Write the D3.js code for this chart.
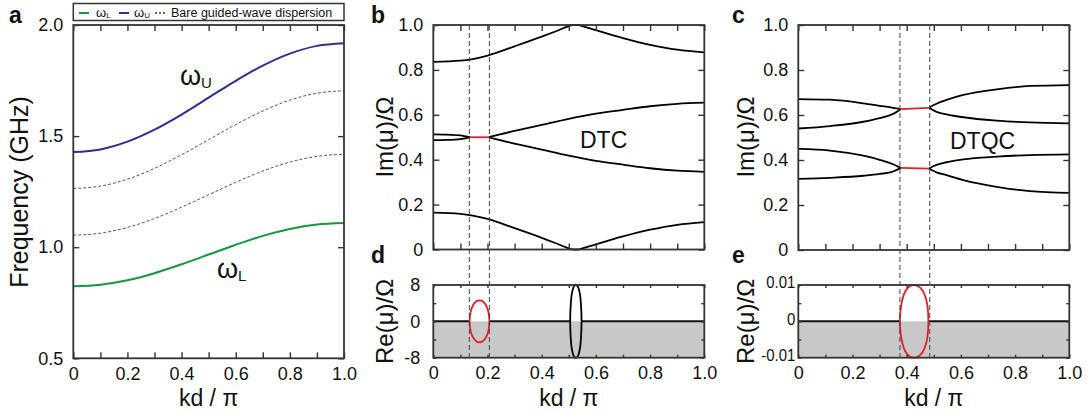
<!DOCTYPE html>
<html>
<head>
<meta charset="utf-8">
<script src="https://cdn.jsdelivr.net/npm/d3@7"></script>
<style>
  body { margin: 0; background: #fff; }
</style>
</head>
<body>
<div id="chart"></div>
<script>
// ---- Data ----
const kdTicks = [0, 0.1, 0.2, 0.3, 0.4, 0.5, 0.6, 0.7, 0.8, 0.9, 1.0]
const kdLabelVals = [0, 0.2, 0.4, 0.6, 0.8, 1.0]
const kdLabelText = ['0', '0.2', '0.4', '0.6', '0.8', '1.0']

const freqTicks = [0.5, 1.0, 1.5, 2.0]
const freqLabelText = ['0.5', '1.0', '1.5', '2.0']
const imTicks = [0, 0.2, 0.4, 0.6, 0.8, 1.0]
const imLabelText = ['0', '0.2', '0.4', '0.6', '0.8', '1.0']
const reDTicks = [-8, -4, 0, 4, 8]
const reDLabelVals = [-8, 0, 8]
const reDLabelText = ['-8', '0', '8']
const reETicks = [-0.01, -0.005, 0, 0.005, 0.01]
const reELabelVals = [-0.01, 0, 0.01]
const reELabelText = ['-0.01', '0', '0.01']

// panel a: dispersion (GHz)
const kA = [0, 0.1, 0.2, 0.3, 0.4, 0.5, 0.6, 0.7, 0.8, 0.9, 1.0]
const omegaU = [1.428, 1.440, 1.475, 1.529, 1.597, 1.673, 1.749, 1.817, 1.871, 1.906, 1.918]
const bareUpper = [1.264, 1.275, 1.306, 1.355, 1.416, 1.484, 1.552, 1.613, 1.662, 1.693, 1.704]
const bareLower = [1.054, 1.063, 1.089, 1.129, 1.180, 1.236, 1.292, 1.343, 1.383, 1.409, 1.418]
const omegaL = [0.824, 0.831, 0.851, 0.883, 0.923, 0.967, 1.011, 1.051, 1.082, 1.102, 1.109]

// panel b: Im(mu)/Omega, DTC
const bTop = [[0, 0.836], [0.1, 0.841], [0.2, 0.864], [0.3, 0.905], [0.4, 0.948], [0.45, 0.971], [0.5, 0.995], [0.515, 1.0], [0.535, 1.0], [0.55, 0.995], [0.6, 0.977], [0.7, 0.942], [0.8, 0.912], [0.9, 0.89], [1.0, 0.878]]
const bBot = [[0, 0.164], [0.1, 0.159], [0.2, 0.136], [0.3, 0.095], [0.4, 0.052], [0.45, 0.029], [0.5, 0.005], [0.515, 0], [0.535, 0], [0.55, 0.005], [0.6, 0.023], [0.7, 0.058], [0.8, 0.088], [0.9, 0.11], [1.0, 0.122]]
const bMidL1 = [[0, 0.513], [0.05, 0.512], [0.1, 0.508], [0.135, 0.5]]
const bMidL2 = [[0, 0.487], [0.05, 0.488], [0.1, 0.492], [0.135, 0.5]]
const bEP = [[0.135, 0.5], [0.205, 0.5]]
const bMidR1 = [[0.205, 0.5], [0.25, 0.514], [0.3, 0.528], [0.4, 0.555], [0.5, 0.582], [0.6, 0.605], [0.7, 0.622], [0.8, 0.638], [0.9, 0.649], [1.0, 0.654]]
const bMidR2 = [[0.205, 0.5], [0.25, 0.486], [0.3, 0.472], [0.4, 0.445], [0.5, 0.418], [0.6, 0.395], [0.7, 0.378], [0.8, 0.362], [0.9, 0.351], [1.0, 0.346]]
const bDash = [0.133, 0.207]

// panel c: Im(mu)/Omega, DTQC
const cUpL1 = [[0, 0.671], [0.117, 0.668], [0.24, 0.652], [0.3, 0.641], [0.35, 0.632], [0.378, 0.626]]
const cUpL2 = [[0, 0.540], [0.117, 0.551], [0.24, 0.570], [0.3, 0.586], [0.35, 0.605], [0.378, 0.626]]
const cUpEP = [[0.378, 0.626], [0.482, 0.632]]
const cUpR1 = [[0.482, 0.632], [0.51, 0.65], [0.547, 0.667], [0.609, 0.689], [0.732, 0.714], [0.855, 0.729], [1.0, 0.733]]
const cUpR2 = [[0.482, 0.632], [0.51, 0.614], [0.547, 0.603], [0.609, 0.590], [0.732, 0.575], [0.855, 0.567], [1.0, 0.563]]
const cLoL1 = [[0, 0.449], [0.117, 0.442], [0.24, 0.419], [0.3, 0.401], [0.35, 0.381], [0.378, 0.365]]
const cLoL2 = [[0, 0.316], [0.117, 0.321], [0.24, 0.330], [0.3, 0.338], [0.35, 0.349], [0.378, 0.365]]
const cLoEP = [[0.378, 0.365], [0.482, 0.362]]
const cLoR1 = [[0.482, 0.362], [0.51, 0.378], [0.547, 0.390], [0.609, 0.403], [0.732, 0.415], [0.855, 0.422], [1.0, 0.425]]
const cLoR2 = [[0.482, 0.362], [0.51, 0.345], [0.547, 0.333], [0.609, 0.311], [0.732, 0.281], [0.855, 0.262], [1.0, 0.254]]
const cDash = [0.375, 0.485]

// panels d, e: Re(mu)/Omega, upper halves of the loops
const dRed = [[0.134, 0], [0.137, 1.9], [0.143, 3.1], [0.152, 4.0], [0.161, 4.5], [0.170, 4.6], [0.180, 4.5], [0.189, 4.0], [0.198, 3.1], [0.204, 1.9], [0.207, 0]]
const dBlack = [[0.505, 0], [0.507, 3.6], [0.511, 6.0], [0.518, 7.6], [0.526, 8.1], [0.534, 7.6], [0.541, 6.0], [0.545, 3.6], [0.547, 0]]
const dZero = [[0, 0.134], [0.207, 0.505], [0.547, 1.0]]
const eRed = [[0.375, 0], [0.378, 0.0036], [0.385, 0.0063], [0.395, 0.0083], [0.41, 0.0096], [0.427, 0.0100], [0.444, 0.0096], [0.459, 0.0084], [0.47, 0.0065], [0.477, 0.0040], [0.480, 0]]
const eZero = [[0, 0.375], [0.480, 1.0]]

// ---- Layout ----
const FONT = "'Liberation Sans', Arial, sans-serif"
const INK = '#333'
const BLUE = '#2b2f8e'
const GREEN = '#15983b'
const RED = '#e31e26'
const GREY = '#c8c8c8'

const svg = d3.select('#chart').append('svg')
  .attr('width', 1088).attr('height', 412)
  .style('font-family', FONT)

const boxA = { x0: 73.3, x1: 344, y0: 25, y1: 358.3 }
const boxB = { x0: 433.3, x1: 704.3, y0: 25, y1: 249.5 }
const boxC = { x0: 798.3, x1: 1069.3, y0: 25, y1: 250 }
const boxD = { x0: 433.3, x1: 704.3, y0: 285, y1: 357.7 }
const boxE = { x0: 798.3, x1: 1069.3, y0: 285, y1: 357.7 }

function makeScales(box, yDomain) {
  return {
    box,
    x: d3.scaleLinear().domain([0, 1]).range([box.x0, box.x1]),
    y: d3.scaleLinear().domain(yDomain).range([box.y1, box.y0]),
  }
}

function drawAxes(p, cfg) {
  const { box, x, y } = p
  const g = svg.append('g')
  const marks = g.append('g')
  marks.append('g').attr('transform', `translate(0,${box.y1})`)
    .call(d3.axisBottom(x).tickValues(cfg.xTicks).tickSize(-cfg.tick).tickFormat(''))
  marks.append('g').attr('transform', `translate(0,${box.y0})`)
    .call(d3.axisTop(x).tickValues(cfg.xTicks).tickSize(-cfg.tick).tickFormat(''))
  marks.append('g').attr('transform', `translate(${box.x0},0)`)
    .call(d3.axisLeft(y).tickValues(cfg.yTicks).tickSize(-cfg.tick).tickFormat(''))
  marks.append('g').attr('transform', `translate(${box.x1},0)`)
    .call(d3.axisRight(y).tickValues(cfg.yTicks).tickSize(-cfg.tick).tickFormat(''))
  marks.selectAll('.domain').remove()
  marks.selectAll('.tick line').attr('stroke', INK).attr('stroke-width', 1.4)

  const labels = g.append('g')
  if (cfg.xLabels) {
    labels.append('g').attr('transform', `translate(0,${box.y1})`)
      .call(d3.axisBottom(x).tickValues(kdLabelVals).tickSize(0).tickPadding(9)
        .tickFormat((d, i) => kdLabelText[i]))
  }
  const yl = labels.append('g').attr('transform', `translate(${box.x0},${cfg.yShift || 0})`)
    .call(d3.axisLeft(y).tickValues(cfg.yLabelVals).tickSize(0).tickPadding(cfg.yPad || 9)
      .tickFormat((d, i) => cfg.yLabelText[i]))
  labels.selectAll('.domain').remove()
  labels.selectAll('text').attr('font-size', 18).attr('font-family', FONT).attr('fill', '#111')
  if (cfg.squeeze) {
    // narrow labels so the long ones fit beside the frame
    yl.selectAll('text').attr('font-size', 17).each(function () {
      const w = this.getComputedTextLength()
      d3.select(this).attr('textLength', w * cfg.squeeze).attr('lengthAdjust', 'spacingAndGlyphs')
    })
  }

  g.append('rect')
    .attr('x', box.x0).attr('y', box.y0)
    .attr('width', box.x1 - box.x0).attr('height', box.y1 - box.y0)
    .attr('fill', 'none').attr('stroke', INK).attr('stroke-width', 1.8)
}

const lineGen = (p) => d3.line()
  .x((d) => p.x(d[0]))
  .y((d) => p.y(d[1]))
  .curve(d3.curveMonotoneX)

function branch(p, data, color, width = 1.8) {
  return svg.append('path').datum(data)
    .attr('d', lineGen(p))
    .attr('fill', 'none').attr('stroke', color).attr('stroke-width', width)
}

function loop(p, upper, color) {
  const pts = upper.concat(upper.slice(1, -1).reverse().map((d) => [d[0], -d[1]]))
  return svg.append('path').datum(pts)
    .attr('d', d3.line().x((d) => p.x(d[0])).y((d) => p.y(d[1])).curve(d3.curveCatmullRomClosed.alpha(0.5)))
    .attr('fill', 'none').attr('stroke', color).attr('stroke-width', 1.8)
}

function greyHalf(p) {
  svg.append('rect')
    .attr('x', p.box.x0).attr('y', p.y(0))
    .attr('width', p.box.x1 - p.box.x0).attr('height', p.box.y1 - p.y(0))
    .attr('fill', GREY)
}

function zeroLine(p, segs) {
  svg.append('g').selectAll('line').data(segs).join('line')
    .attr('x1', (d) => p.x(d[0])).attr('x2', (d) => p.x(d[1]))
    .attr('y1', p.y(0)).attr('y2', p.y(0))
    .attr('stroke', '#111').attr('stroke-width', 2)
}

function dashes(top, bottom, ks) {
  svg.append('g').selectAll('line').data(ks).join('line')
    .attr('x1', (d) => top.x(d)).attr('x2', (d) => top.x(d))
    .attr('y1', top.box.y0).attr('y2', bottom.box.y1)
    .attr('stroke', '#444').attr('stroke-width', 1).attr('stroke-dasharray', '5,3')
}

function text(x, y, str, size, opts = {}) {
  const t = svg.append('text').attr('x', x).attr('y', y)
    .attr('font-size', size).attr('fill', '#111')
    .attr('text-anchor', opts.anchor || 'start')
    .attr('font-weight', opts.bold ? 'bold' : 'normal')
    .text(str)
  if (opts.rotate) t.attr('transform', `rotate(-90,${x},${y})`)
  return t
}

function omega(x, y, sub, size, subSize) {
  const t = svg.append('text').attr('x', x).attr('y', y).attr('fill', '#111')
  t.append('tspan').attr('font-size', size).text('ω')
  t.append('tspan').attr('font-size', subSize).attr('dy', size * 0.12).text(sub)
  return t
}

// ---- Panel a ----
const pA = makeScales(boxA, [0.5, 2.0])
const seriesA = (vals) => kA.map((k, i) => [k, vals[i]])
branch(pA, seriesA(bareUpper), '#555', 1).attr('stroke-dasharray', '3,2')
branch(pA, seriesA(bareLower), '#555', 1).attr('stroke-dasharray', '3,2')
branch(pA, seriesA(omegaU), BLUE, 2)
branch(pA, seriesA(omegaL), GREEN, 2)
drawAxes(pA, { xTicks: kdTicks, yTicks: freqTicks, tick: 6, xLabels: true, yLabelVals: freqTicks, yLabelText: freqLabelText, yPad: 10 })
omega(180, 85, 'U', 27, 15)
omega(217, 278, 'L', 27, 15)

// legend
svg.append('rect').attr('x', 73.3).attr('y', 3.5).attr('width', 270.7).attr('height', 17)
  .attr('fill', '#fff').attr('stroke', INK).attr('stroke-width', 1.5)
svg.append('line').attr('x1', 79).attr('x2', 89).attr('y1', 13).attr('y2', 13).attr('stroke', GREEN).attr('stroke-width', 2)
omega(96, 16.5, 'L', 13, 8)
svg.append('line').attr('x1', 119).attr('x2', 129).attr('y1', 13).attr('y2', 13).attr('stroke', BLUE).attr('stroke-width', 2)
omega(134, 16.5, 'U', 13, 8)
svg.append('line').attr('x1', 155).attr('x2', 167).attr('y1', 13).attr('y2', 13).attr('stroke', '#333').attr('stroke-width', 1.5).attr('stroke-dasharray', '2,2')
text(171, 17, 'Bare guided-wave dispersion', 12.5)

text(28, 192, 'Frequency (GHz)', 25, { anchor: 'middle', rotate: true })
text(208.6, 406, 'kd / π', 23, { anchor: 'middle' })
text(9, 23, 'a', 23, { bold: true })

// ---- Panel b ----
const pB = makeScales(boxB, [0, 1])
;[bTop, bBot, bMidL1, bMidL2, bMidR1, bMidR2].forEach((d) => branch(pB, d, '#000'))
branch(pB, bEP, RED)
drawAxes(pB, { xTicks: kdTicks, yTicks: imTicks, tick: 6, xLabels: false, yLabelVals: imTicks, yLabelText: imLabelText, yPad: 10 })
text(580, 148, 'DTC', 23)
text(393, 137, 'Im(μ)/Ω', 24, { anchor: 'middle', rotate: true })
text(371, 23, 'b', 23, { bold: true })

// ---- Panel d ----
const pD = makeScales(boxD, [-8, 8])
greyHalf(pD)
zeroLine(pD, dZero)
loop(pD, dRed, RED)
loop(pD, dBlack, '#000')
drawAxes(pD, { xTicks: kdTicks, yTicks: reDTicks, tick: 3, xLabels: true, yLabelVals: reDLabelVals, yLabelText: reDLabelText, yPad: 13 })
dashes(pB, pD, bDash)
text(393, 321.4, 'Re(μ)/Ω', 24, { anchor: 'middle', rotate: true })
text(371, 263, 'd', 23, { bold: true })
text(568.8, 406, 'kd / π', 23, { anchor: 'middle' })

// ---- Panel c ----
const pC = makeScales(boxC, [0, 1])
;[cUpL1, cUpL2, cUpR1, cUpR2, cLoL1, cLoL2, cLoR1, cLoR2].forEach((d) => branch(pC, d, '#000'))
branch(pC, cUpEP, RED)
branch(pC, cLoEP, RED)
drawAxes(pC, { xTicks: kdTicks, yTicks: imTicks, tick: 6, xLabels: false, yLabelVals: imTicks, yLabelText: imLabelText, yPad: 10 })
text(950, 149, 'DTQC', 23)
text(754, 137, 'Im(μ)/Ω', 24, { anchor: 'middle', rotate: true })
text(732, 23, 'c', 23, { bold: true })

// ---- Panel e ----
const pE = makeScales(boxE, [-0.01, 0.01])
greyHalf(pE)
zeroLine(pE, eZero)
loop(pE, eRed, RED)
drawAxes(pE, { xTicks: kdTicks, yTicks: reETicks, tick: 3, xLabels: true, yLabelVals: reELabelVals, yLabelText: reELabelText, yPad: 3, yShift: -2.5, squeeze: 0.88 })
dashes(pC, pE, cDash)
text(754, 321.4, 'Re(μ)/Ω', 24, { anchor: 'middle', rotate: true })
text(732, 263, 'e', 23, { bold: true })
text(933.8, 406, 'kd / π', 23, { anchor: 'middle' })
</script>
</body>
</html>
